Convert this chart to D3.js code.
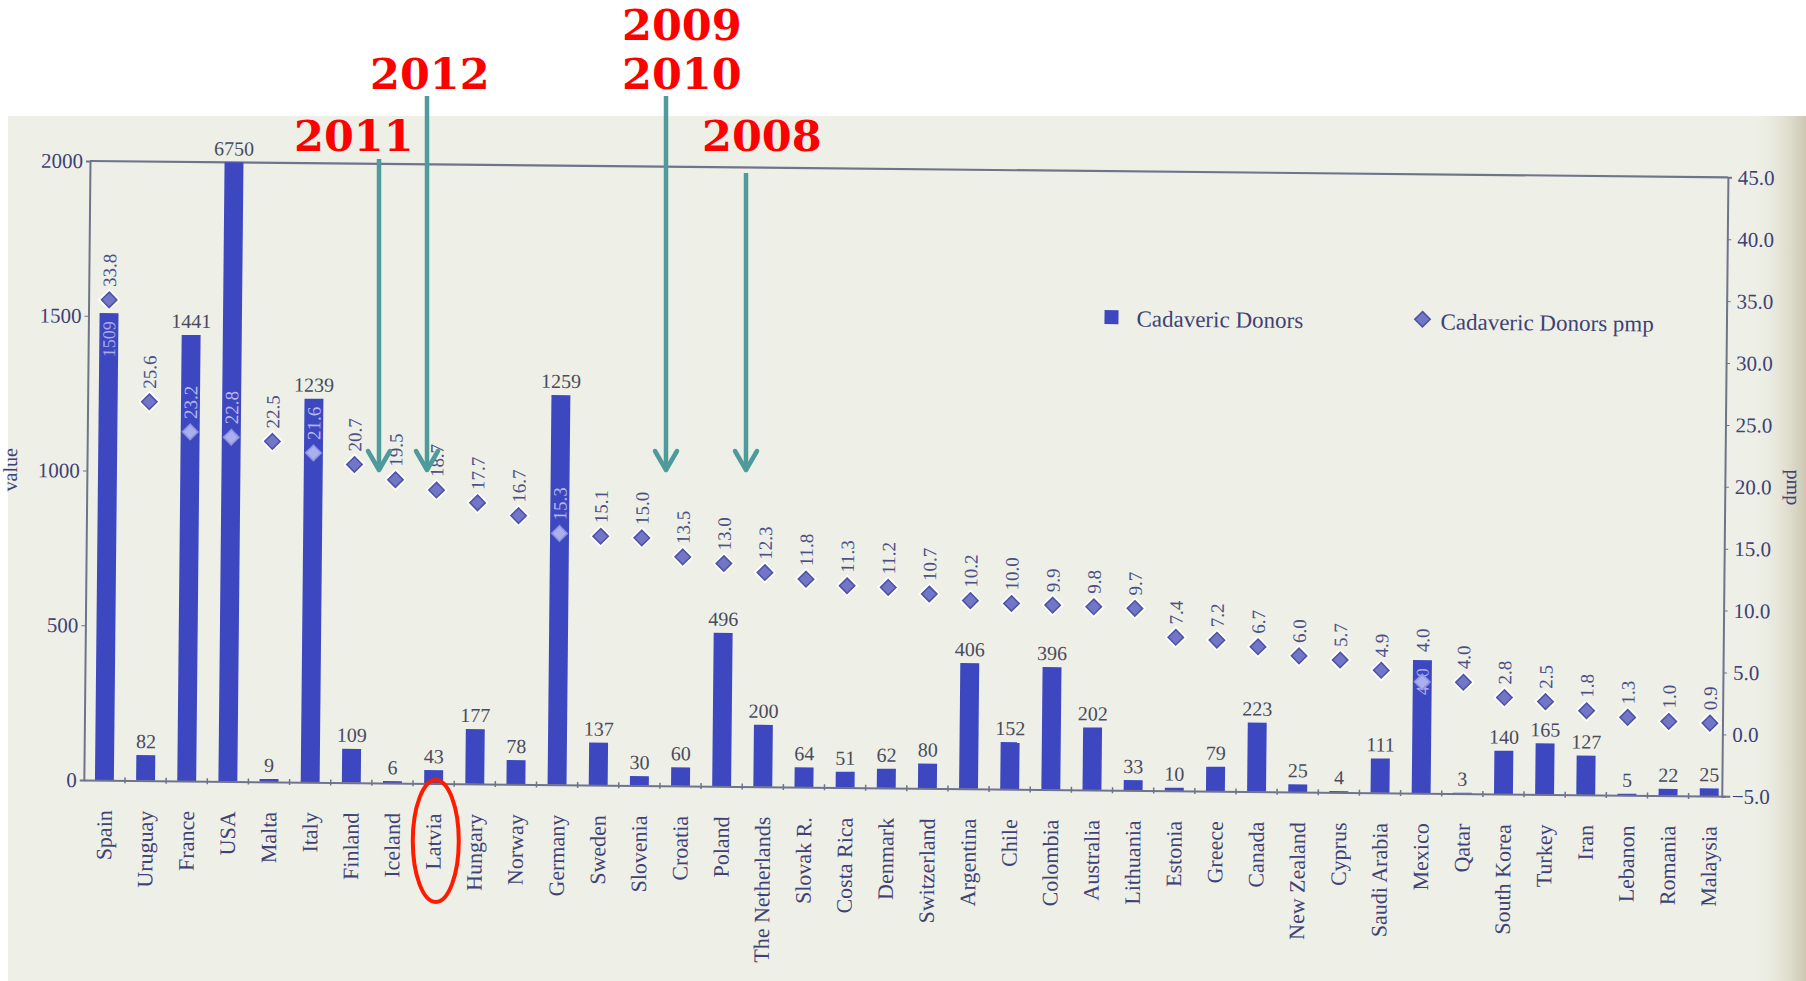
<!DOCTYPE html>
<html>
<head>
<meta charset="utf-8">
<script src="https://cdn.jsdelivr.net/npm/d3@7"></script>
<style>
  html, body { margin: 0; padding: 0; background: #ffffff; }
  svg { display: block; }
</style>
</head>
<body>
<svg id="chart" width="1806" height="981"></svg>
<script>
// ---------------- data ----------------
const countries = ["Spain","Uruguay","France","USA","Malta","Italy","Finland","Iceland","Latvia","Hungary",
  "Norway","Germany","Sweden","Slovenia","Croatia","Poland","The Netherlands","Slovak R.","Costa Rica","Denmark",
  "Switzerland","Argentina","Chile","Colombia","Australia","Lithuania","Estonia","Greece","Canada","New Zealand",
  "Cyprus","Saudi Arabia","Mexico","Qatar","South Korea","Turkey","Iran","Lebanon","Romania","Malaysia"];
const donors = [1509, 82, 1441, 6750, 9, 1239, 109, 6, 43, 177,
  78, 1259, 137, 30, 60, 496, 200, 64, 51, 62,
  80, 406, 152, 396, 202, 33, 10, 79, 223, 25,
  4, 111, 430, 3, 140, 165, 127, 5, 22, 25];
const pmp = [33.8, 25.6, 23.2, 22.8, 22.5, 21.6, 20.7, 19.5, 18.7, 17.7,
  16.7, 15.3, 15.1, 15.0, 13.5, 13.0, 12.3, 11.8, 11.3, 11.2,
  10.7, 10.2, 10.0, 9.9, 9.8, 9.7, 7.4, 7.2, 6.7, 6.0,
  5.7, 4.9, 4.0, 4.0, 2.8, 2.5, 1.8, 1.3, 1.0, 0.9];
const leftTicks = [0, 500, 1000, 1500, 2000];
const rightTicks = [-5, 0, 5, 10, 15, 20, 25, 30, 35, 40, 45];
const seriesNames = ["Cadaveric Donors", "Cadaveric Donors pmp"];
const axisTitles = ["value", "pmp"];
const annotationYears = [
  {text: "2009", x: 622, y: 40},
  {text: "2010", x: 622, y: 89},
  {text: "2012", x: 370, y: 89},
  {text: "2011", x: 294, y: 151},
  {text: "2008", x: 702, y: 151}
];
const annotationArrows = [
  {x: 379, y0: 159, y1: 470},
  {x: 427, y0: 96, y1: 470},
  {x: 666, y0: 96, y1: 470},
  {x: 746, y0: 173, y1: 470}
];
const highlighted = "Latvia";

// ---------------- layout ----------------
const svg = d3.select("#chart");
const L = 90, R = 1728, T = 161, B = 780;
const serif = "'Liberation Serif', 'DejaVu Serif', serif";
const barColor = "#3d47c0";
const inkBlue = "#3f4275";
const inkGray = "#4a4b5c";

// photo background
const defs = svg.append("defs");
const g1 = defs.append("linearGradient").attr("id", "edge").attr("x1", 0).attr("x2", 1);
g1.append("stop").attr("offset", "0%").attr("stop-color", "#eeefe6").attr("stop-opacity", 0);
g1.append("stop").attr("offset", "100%").attr("stop-color", "#cdc7b1").attr("stop-opacity", 1);

svg.append("rect").attr("x", 8).attr("y", 116).attr("width", 1806 - 8).attr("height", 981 - 116)
  .attr("fill", "#eef0e7");
svg.append("rect").attr("x", 1750).attr("y", 116).attr("width", 56).attr("height", 981 - 116)
  .attr("fill", "url(#edge)");

// rotated photo content
const photo = svg.append("g").attr("transform", `rotate(0.57, ${L}, ${T})`);

// scales
const x = d3.scaleBand().domain(countries).range([L, 1736]).paddingInner(0.54).paddingOuter(0.27);
const yL = d3.scaleLinear().domain([0, 2000]).range([B, T]).clamp(true);
const yR = d3.scaleLinear().domain([-5, 45]).range([B, T]);
const cx = c => x(c) + x.bandwidth() / 2;

// frame
const frameColor = "#6f738c";
photo.append("line").attr("x1", L).attr("x2", R).attr("y1", T).attr("y2", T)
  .attr("stroke", frameColor).attr("stroke-width", 2.2);

// left axis
const axL = d3.axisLeft(yL).tickValues(leftTicks).tickSize(4).tickPadding(3).tickFormat(d3.format("d"));
const gL = photo.append("g").attr("transform", `translate(${L},0)`).call(axL);
gL.select(".domain").attr("stroke", frameColor).attr("stroke-width", 2);
gL.selectAll(".tick line").attr("stroke", frameColor);
gL.selectAll(".tick text").attr("font-family", serif).attr("font-size", 21).attr("fill", inkBlue);

// right axis
const axR = d3.axisRight(yR).tickValues(rightTicks).tickSize(4).tickPadding(6).tickFormat(d3.format(".1f"));
const gR = photo.append("g").attr("transform", `translate(${R},0)`).call(axR);
gR.select(".domain").attr("stroke", frameColor).attr("stroke-width", 2);
gR.selectAll(".tick line").attr("stroke", frameColor);
gR.selectAll(".tick text").attr("font-family", serif).attr("font-size", 21).attr("fill", inkBlue);

// axis titles
photo.append("text").attr("transform", `translate(${L - 70},${(T + B) / 2}) rotate(-90)`)
  .attr("text-anchor", "middle").attr("font-family", serif).attr("font-size", 20)
  .attr("fill", inkBlue).text(axisTitles[0]);
photo.append("text").attr("transform", `translate(${R + 62},${yR(20)}) rotate(90)`)
  .attr("text-anchor", "middle").attr("font-family", serif).attr("font-size", 20)
  .attr("fill", inkBlue).text(axisTitles[1]);

// bars
photo.selectAll("rect.bar").data(countries).join("rect").attr("class", "bar")
  .attr("x", d => x(d)).attr("width", x.bandwidth())
  .attr("y", (d, i) => yL(donors[i]))
  .attr("height", (d, i) => B - yL(donors[i]))
  .attr("fill", barColor);

// bottom axis (category) line with small ticks
const axB = d3.axisBottom(x).tickSize(0).tickFormat("");
const gB = photo.append("g").attr("transform", `translate(0,${B})`).call(axB);
gB.select(".domain").attr("stroke", frameColor).attr("stroke-width", 2);
const bounds = countries.slice(1).map(c => x(c) - (x.step() - x.bandwidth()) / 2);
photo.selectAll("line.sep").data(bounds).join("line").attr("class", "sep")
  .attr("x1", d => d).attr("x2", d => d).attr("y1", B - 3).attr("y2", B + 3)
  .attr("stroke", frameColor).attr("stroke-width", 1.5);

// country labels
photo.selectAll("text.cat").data(countries).join("text").attr("class", "cat")
  .attr("transform", d => `translate(${cx(d)},${B + 30}) rotate(-90)`)
  .attr("text-anchor", "end").attr("dy", "0.35em")
  .attr("font-family", serif).attr("font-size", 22).attr("fill", inkBlue)
  .text(d => d);

// bar value labels
const insideCount = new Set(["Spain", "Mexico"]);
photo.selectAll("text.val").data(countries.filter(c => !insideCount.has(c))).join("text").attr("class", "val")
  .attr("x", d => cx(d))
  .attr("y", d => yL(donors[countries.indexOf(d)]) - 7)
  .attr("text-anchor", "middle").attr("font-family", serif).attr("font-size", 20)
  .attr("fill", inkGray).text(d => donors[countries.indexOf(d)]);
photo.selectAll("text.valin").data(countries.filter(c => insideCount.has(c))).join("text").attr("class", "valin")
  .attr("transform", d => `translate(${cx(d)},${yL(donors[countries.indexOf(d)]) + 8}) rotate(-90)`)
  .attr("text-anchor", "end").attr("dy", "0.35em").attr("font-family", serif).attr("font-size", 18)
  .attr("fill", "#a9aee8").text(d => donors[countries.indexOf(d)]);

// pmp diamonds
const inBar = (c, i) => yR(pmp[i]) > yL(donors[i]);
const diamond = d3.symbol().type(d3.symbolDiamond2).size(150);
const dg = photo.selectAll("g.dia").data(countries).join("g").attr("class", "dia")
  .attr("transform", (d, i) => `translate(${cx(d)},${yR(pmp[i])})`);
dg.filter((d, i) => !inBar(d, i)).append("path").attr("d", diamond)
  .attr("fill", "none").attr("stroke", "#ffffff").attr("stroke-width", 5);
dg.append("path").attr("d", diamond)
  .attr("fill", (d, i) => inBar(d, i) ? "#aab0ee" : "#7177c6")
  .attr("stroke", (d, i) => inBar(d, i) ? "#8f96e0" : "#4e53a8").attr("stroke-width", 1.6);

// pmp labels
const pmpAboveBar = new Set(["Mexico"]);
photo.selectAll("text.pmp").data(countries).join("text").attr("class", "pmp")
  .attr("transform", (d, i) => {
    const y0 = pmpAboveBar.has(d) ? yL(donors[i]) - 8 : yR(pmp[i]) - 13;
    return `translate(${cx(d)},${y0}) rotate(-90)`;
  })
  .attr("text-anchor", "start").attr("dy", "0.35em")
  .attr("font-family", serif).attr("font-size", 19)
  .attr("fill", (d, i) => (inBar(d, i) && !pmpAboveBar.has(d)) ? "#b4b9ee" : "#4b4f86")
  .text((d, i) => pmp[i].toFixed(1));

// legend
const leg = photo.append("g");
leg.append("rect").attr("x", 1106).attr("y", 300).attr("width", 14).attr("height", 14).attr("fill", barColor);
leg.append("text").attr("x", 1138).attr("y", 316).attr("font-family", serif).attr("font-size", 23)
  .attr("fill", inkBlue).text(seriesNames[0]);
leg.append("path").attr("transform", "translate(1424,306)").attr("d", diamond)
  .attr("fill", "#7177c6").attr("stroke", "#4e53a8").attr("stroke-width", 1.6);
leg.append("text").attr("x", 1442).attr("y", 316).attr("font-family", serif).attr("font-size", 23)
  .attr("fill", inkBlue).text(seriesNames[1]);

// ---------------- overlay annotations (not rotated) ----------------
const teal = "#4f9a9b";
const ann = svg.append("g");
annotationArrows.forEach(a => {
  ann.append("line").attr("x1", a.x).attr("x2", a.x).attr("y1", a.y0).attr("y2", a.y1)
    .attr("stroke", teal).attr("stroke-width", 4.5);
  ann.append("path").attr("d", `M${a.x - 11},${a.y1 - 19} L${a.x},${a.y1} L${a.x + 11},${a.y1 - 19}`)
    .attr("fill", "none").attr("stroke", teal).attr("stroke-width", 4.5)
    .attr("stroke-linecap", "round").attr("stroke-linejoin", "round");
});
ann.selectAll("text.year").data(annotationYears).join("text").attr("class", "year")
  .attr("x", d => d.x).attr("y", d => d.y)
  .attr("font-family", "'DejaVu Serif', serif").attr("font-weight", "bold").attr("font-size", 43)
  .attr("fill", "#ff0000").text(d => d.text);

// highlight ellipse around the Latvia label
ann.append("ellipse").attr("cx", cx(highlighted) - 4).attr("cy", 841).attr("rx", 23).attr("ry", 61)
  .attr("fill", "none").attr("stroke", "#ff1a00").attr("stroke-width", 4);
</script>
</body>
</html>
